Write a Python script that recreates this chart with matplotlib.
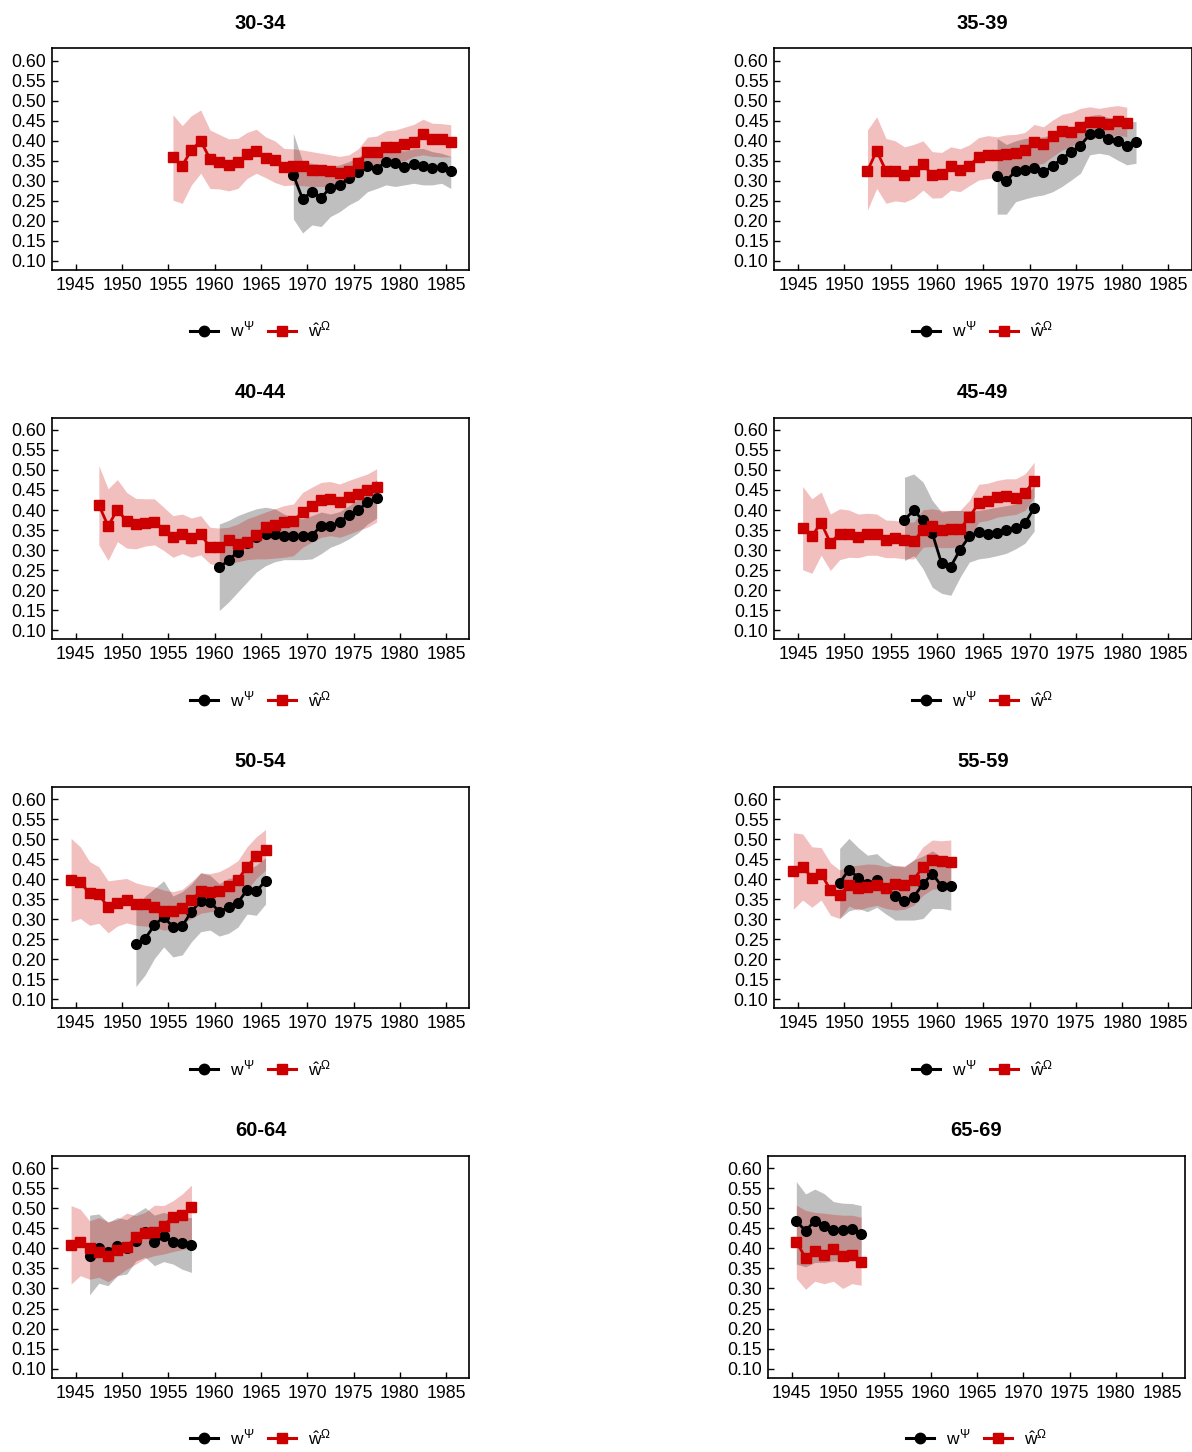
import numpy as np
import matplotlib
matplotlib.use("Agg")
import matplotlib.pyplot as plt
from matplotlib.lines import Line2D

plt.rcParams['font.family'] = ['Liberation Sans', 'DejaVu Sans']
plt.rcParams['mathtext.fontset'] = 'custom'
plt.rcParams['mathtext.rm'] = 'Liberation Sans'
plt.rcParams['mathtext.it'] = 'Liberation Sans'
plt.rcParams['mathtext.bf'] = 'Liberation Sans:bold'

# ---------------------------------------------------------------- data
age_groups = ["30-34", "35-39", "40-44", "45-49", "50-54", "55-59", "60-64", "65-69"]

x_ticks = [1945, 1950, 1955, 1960, 1965, 1970, 1975, 1980, 1985]
y_ticks = [0.10, 0.15, 0.20, 0.25, 0.30, 0.35, 0.40, 0.45, 0.50, 0.55, 0.60]

# first cohort (mid-year) of each series
psi_start = [1968.5, 1966.5, 1960.5, 1956.5, 1951.5, 1949.5, 1946.5, 1945.5]
omega_start = [1955.5, 1952.5, 1947.5, 1945.5, 1944.5, 1944.5, 1944.5, 1945.5]

# 30-34
psi_3034 = [0.315, 0.255, 0.273, 0.258, 0.283, 0.290, 0.306, 0.321, 0.337, 0.330,
            0.348, 0.344, 0.334, 0.341, 0.338, 0.333, 0.335, 0.325]
psi_3034_hi = [0.419, 0.348, 0.344, 0.340, 0.336, 0.340, 0.348, 0.360, 0.373, 0.373,
               0.377, 0.377, 0.375, 0.380, 0.381, 0.373, 0.369, 0.361]
psi_3034_lo = [0.205, 0.170, 0.190, 0.186, 0.211, 0.223, 0.240, 0.252, 0.273, 0.281,
               0.290, 0.286, 0.290, 0.294, 0.290, 0.290, 0.294, 0.281]
omega_3034 = [0.359, 0.338, 0.377, 0.400, 0.355, 0.346, 0.340, 0.346, 0.366, 0.375,
              0.358, 0.351, 0.335, 0.336, 0.336, 0.328, 0.328, 0.325, 0.320, 0.325,
              0.344, 0.371, 0.372, 0.385, 0.385, 0.391, 0.398, 0.417, 0.404, 0.404, 0.398]
omega_3034_hi = [0.465, 0.438, 0.463, 0.477, 0.427, 0.416, 0.405, 0.406, 0.421, 0.429,
                 0.410, 0.400, 0.381, 0.380, 0.377, 0.373, 0.369, 0.365, 0.361, 0.365,
                 0.380, 0.409, 0.412, 0.425, 0.427, 0.434, 0.441, 0.454, 0.444, 0.443, 0.440]
omega_3034_lo = [0.252, 0.244, 0.290, 0.319, 0.281, 0.280, 0.275, 0.281, 0.306, 0.319,
                 0.308, 0.296, 0.288, 0.290, 0.288, 0.286, 0.286, 0.286, 0.286, 0.294,
                 0.315, 0.333, 0.340, 0.350, 0.348, 0.350, 0.361, 0.365, 0.361, 0.360, 0.360]

# 35-39
psi_3539 = [0.313, 0.300, 0.325, 0.327, 0.333, 0.321, 0.338, 0.355, 0.373, 0.388,
            0.416, 0.419, 0.405, 0.400, 0.388, 0.398]
psi_3539_hi = [0.406, 0.391, 0.400, 0.406, 0.408, 0.410, 0.416, 0.423, 0.431, 0.444,
               0.463, 0.466, 0.458, 0.455, 0.448, 0.448]
psi_3539_lo = [0.217, 0.217, 0.248, 0.255, 0.261, 0.265, 0.273, 0.286, 0.302, 0.319,
               0.365, 0.369, 0.365, 0.352, 0.340, 0.344]
omega_3539 = [0.325, 0.375, 0.325, 0.325, 0.315, 0.325, 0.341, 0.315, 0.316, 0.336,
              0.327, 0.338, 0.360, 0.365, 0.365, 0.366, 0.369, 0.377, 0.398, 0.391,
              0.413, 0.425, 0.421, 0.435, 0.446, 0.446, 0.441, 0.450, 0.444]
omega_3539_hi = [0.427, 0.460, 0.406, 0.400, 0.385, 0.391, 0.400, 0.373, 0.371, 0.385,
                 0.380, 0.390, 0.408, 0.413, 0.410, 0.415, 0.416, 0.421, 0.441, 0.435,
                 0.452, 0.466, 0.471, 0.481, 0.485, 0.481, 0.485, 0.488, 0.484]
omega_3539_lo = [0.227, 0.281, 0.244, 0.250, 0.247, 0.257, 0.277, 0.257, 0.258, 0.277,
                 0.273, 0.288, 0.302, 0.306, 0.308, 0.311, 0.315, 0.323, 0.340, 0.344,
                 0.361, 0.377, 0.385, 0.400, 0.406, 0.406, 0.410, 0.415, 0.410]

# 40-44
psi_4044 = [0.257, 0.274, 0.296, 0.318, 0.332, 0.340, 0.340, 0.336, 0.335, 0.335,
            0.336, 0.361, 0.360, 0.370, 0.388, 0.399, 0.420, 0.430]
psi_4044_hi = [0.365, 0.374, 0.386, 0.395, 0.403, 0.407, 0.403, 0.390, 0.382, 0.378,
               0.386, 0.395, 0.390, 0.396, 0.411, 0.428, 0.453, 0.476]
psi_4044_lo = [0.149, 0.170, 0.195, 0.220, 0.245, 0.261, 0.271, 0.276, 0.276, 0.276,
               0.278, 0.291, 0.307, 0.316, 0.328, 0.343, 0.365, 0.380]
omega_4044 = [0.413, 0.360, 0.401, 0.372, 0.365, 0.368, 0.371, 0.351, 0.332, 0.340,
              0.330, 0.340, 0.307, 0.307, 0.324, 0.316, 0.321, 0.338, 0.357, 0.363,
              0.370, 0.372, 0.396, 0.411, 0.424, 0.428, 0.421, 0.432, 0.440, 0.449, 0.457]
omega_4044_hi = [0.511, 0.453, 0.476, 0.444, 0.429, 0.428, 0.428, 0.407, 0.386, 0.390,
                 0.380, 0.386, 0.357, 0.355, 0.357, 0.365, 0.378, 0.386, 0.395, 0.403,
                 0.411, 0.415, 0.444, 0.457, 0.469, 0.471, 0.465, 0.474, 0.482, 0.490, 0.503]
omega_4044_lo = [0.313, 0.274, 0.321, 0.305, 0.303, 0.310, 0.313, 0.299, 0.282, 0.291,
                 0.282, 0.288, 0.266, 0.261, 0.266, 0.271, 0.276, 0.278, 0.278, 0.280,
                 0.282, 0.286, 0.307, 0.320, 0.332, 0.336, 0.332, 0.340, 0.349, 0.357, 0.370]

# 45-49
psi_4549 = [0.376, 0.399, 0.374, 0.342, 0.267, 0.259, 0.301, 0.334, 0.346, 0.341,
            0.342, 0.349, 0.355, 0.367, 0.405]
psi_4549_hi = [0.482, 0.490, 0.470, 0.424, 0.395, 0.399, 0.399, 0.399, 0.399, 0.403,
               0.407, 0.411, 0.415, 0.432, 0.461]
psi_4549_lo = [0.274, 0.286, 0.253, 0.207, 0.192, 0.187, 0.232, 0.270, 0.278, 0.281,
               0.286, 0.292, 0.303, 0.317, 0.347]
omega_4549 = [0.356, 0.335, 0.368, 0.318, 0.341, 0.341, 0.332, 0.341, 0.341, 0.326,
              0.331, 0.326, 0.322, 0.351, 0.359, 0.351, 0.353, 0.353, 0.382, 0.417,
              0.422, 0.432, 0.436, 0.430, 0.443, 0.472]
omega_4549_hi = [0.459, 0.428, 0.445, 0.390, 0.403, 0.400, 0.390, 0.392, 0.390, 0.375,
                 0.374, 0.370, 0.370, 0.401, 0.403, 0.399, 0.399, 0.399, 0.424, 0.464,
                 0.467, 0.474, 0.478, 0.478, 0.490, 0.519]
omega_4549_lo = [0.251, 0.242, 0.287, 0.249, 0.276, 0.282, 0.281, 0.287, 0.287, 0.281,
                 0.281, 0.278, 0.278, 0.307, 0.309, 0.306, 0.306, 0.309, 0.328, 0.370,
                 0.374, 0.382, 0.386, 0.389, 0.399, 0.432]

# 50-54
psi_5054 = [0.238, 0.252, 0.285, 0.306, 0.281, 0.283, 0.319, 0.346, 0.344, 0.319,
            0.330, 0.341, 0.373, 0.370, 0.396]
psi_5054_hi = [0.330, 0.358, 0.377, 0.396, 0.358, 0.369, 0.388, 0.416, 0.410, 0.389,
               0.402, 0.406, 0.423, 0.435, 0.454]
psi_5054_lo = [0.132, 0.161, 0.202, 0.231, 0.206, 0.211, 0.244, 0.269, 0.273, 0.258,
               0.265, 0.280, 0.313, 0.310, 0.338]
omega_5054 = [0.398, 0.392, 0.365, 0.362, 0.330, 0.341, 0.348, 0.337, 0.337, 0.331,
              0.321, 0.320, 0.327, 0.348, 0.370, 0.367, 0.371, 0.383, 0.398, 0.431,
              0.458, 0.473]
omega_5054_hi = [0.502, 0.481, 0.444, 0.431, 0.396, 0.399, 0.402, 0.391, 0.385, 0.381,
                 0.373, 0.369, 0.375, 0.394, 0.416, 0.414, 0.419, 0.431, 0.446, 0.481,
                 0.506, 0.524]
omega_5054_lo = [0.294, 0.302, 0.285, 0.290, 0.266, 0.283, 0.291, 0.285, 0.283, 0.280,
                 0.273, 0.275, 0.290, 0.302, 0.315, 0.319, 0.319, 0.323, 0.344, 0.373,
                 0.402, 0.423]

# 55-59
psi_5559 = [0.391, 0.424, 0.404, 0.389, 0.398, 0.377, 0.358, 0.345, 0.356, 0.388,
            0.414, 0.383, 0.383]
psi_5559_hi = [0.477, 0.502, 0.479, 0.460, 0.464, 0.444, 0.433, 0.431, 0.448, 0.458,
               0.471, 0.456, 0.456]
psi_5559_lo = [0.302, 0.321, 0.327, 0.319, 0.330, 0.313, 0.298, 0.298, 0.298, 0.302,
               0.327, 0.327, 0.323]
omega_5559 = [0.420, 0.431, 0.404, 0.414, 0.373, 0.360, 0.385, 0.379, 0.381, 0.385,
              0.377, 0.388, 0.385, 0.399, 0.431, 0.448, 0.445, 0.442]
omega_5559_hi = [0.516, 0.513, 0.481, 0.479, 0.441, 0.423, 0.433, 0.435, 0.438, 0.437,
                 0.431, 0.435, 0.433, 0.448, 0.481, 0.498, 0.496, 0.498]
omega_5559_lo = [0.325, 0.348, 0.330, 0.348, 0.310, 0.302, 0.333, 0.323, 0.330, 0.335,
                 0.327, 0.323, 0.325, 0.335, 0.360, 0.375, 0.377, 0.377]

# 60-64
psi_6064 = [0.382, 0.400, 0.392, 0.407, 0.400, 0.419, 0.442, 0.415, 0.430, 0.417,
            0.413, 0.408]
psi_6064_hi = [0.483, 0.486, 0.465, 0.477, 0.472, 0.488, 0.502, 0.483, 0.490, 0.482,
               0.477, 0.477]
psi_6064_lo = [0.284, 0.313, 0.307, 0.332, 0.336, 0.369, 0.378, 0.357, 0.367, 0.361,
               0.348, 0.340]
omega_6064 = [0.408, 0.417, 0.400, 0.390, 0.382, 0.397, 0.403, 0.429, 0.438, 0.442,
              0.457, 0.479, 0.483, 0.504]
omega_6064_hi = [0.507, 0.498, 0.469, 0.477, 0.467, 0.472, 0.488, 0.482, 0.490, 0.508,
                 0.507, 0.519, 0.536, 0.558]
omega_6064_lo = [0.311, 0.332, 0.323, 0.328, 0.317, 0.332, 0.348, 0.361, 0.375, 0.382,
                 0.386, 0.392, 0.397, 0.403]

# 65-69
psi_6569 = [0.468, 0.444, 0.469, 0.455, 0.446, 0.446, 0.448, 0.436]
psi_6569_hi = [0.567, 0.536, 0.548, 0.537, 0.517, 0.513, 0.512, 0.507]
psi_6569_lo = [0.361, 0.354, 0.365, 0.365, 0.369, 0.368, 0.371, 0.373]
omega_6569 = [0.417, 0.376, 0.394, 0.383, 0.398, 0.380, 0.384, 0.367]
omega_6569_hi = [0.508, 0.495, 0.490, 0.488, 0.485, 0.483, 0.483, 0.478]
omega_6569_lo = [0.325, 0.298, 0.318, 0.312, 0.318, 0.300, 0.312, 0.308]

psi_series = [
    (psi_3034, psi_3034_lo, psi_3034_hi), (psi_3539, psi_3539_lo, psi_3539_hi),
    (psi_4044, psi_4044_lo, psi_4044_hi), (psi_4549, psi_4549_lo, psi_4549_hi),
    (psi_5054, psi_5054_lo, psi_5054_hi), (psi_5559, psi_5559_lo, psi_5559_hi),
    (psi_6064, psi_6064_lo, psi_6064_hi), (psi_6569, psi_6569_lo, psi_6569_hi),
]
omega_series = [
    (omega_3034, omega_3034_lo, omega_3034_hi), (omega_3539, omega_3539_lo, omega_3539_hi),
    (omega_4044, omega_4044_lo, omega_4044_hi), (omega_4549, omega_4549_lo, omega_4549_hi),
    (omega_5054, omega_5054_lo, omega_5054_hi), (omega_5559, omega_5559_lo, omega_5559_hi),
    (omega_6064, omega_6064_lo, omega_6064_hi), (omega_6569, omega_6569_lo, omega_6569_hi),
]

# ---------------------------------------------------------------- layout
W, H = 1192, 1452
AX_W, AX_H = 417.6, 221.7
ROW_TOP0, ROW_STEP = 48.3, 369.2
COL_LEFT = [51.7, 774.0]
LAST_LEFT = 767.7

BLACK = "#000000"
RED = "#CC0000"

fig = plt.figure(figsize=(W / 100, H / 100), dpi=100)

legend_labels = [r"$w^{\Psi}$", r"$\hat{w}^{\Omega}$"]
legend_handles = [
    Line2D([], [], color=BLACK, lw=2.2, marker="o", ms=7.5),
    Line2D([], [], color=RED, lw=2.2, marker="s", ms=7.5),
]

for i, name in enumerate(age_groups):
    row, col = divmod(i, 2)
    left = COL_LEFT[col] if i < 7 else LAST_LEFT
    top = ROW_TOP0 + row * ROW_STEP
    ax = fig.add_axes([left / W, 1 - (top + AX_H) / H, AX_W / W, AX_H / H])

    p, p_lo, p_hi = psi_series[i]
    o, o_lo, o_hi = omega_series[i]
    xp = psi_start[i] + np.arange(len(p))
    xo = omega_start[i] + np.arange(len(o))

    ax.fill_between(xp, p_lo, p_hi, color=BLACK, alpha=0.25, lw=0, zorder=1)
    ax.fill_between(xo, o_lo, o_hi, color=RED, alpha=0.25, lw=0, zorder=1.5)
    ax.plot(xp, p, color=BLACK, lw=2.0, marker="o", ms=7.0, zorder=3)
    ax.plot(xo, o, color=RED, lw=2.0, marker="s", ms=6.8, zorder=4)

    ax.set_xlim(1942.41, 1987.5)
    ax.set_ylim(0.0775, 0.631)
    ax.set_xticks(x_ticks)
    ax.set_xticklabels([str(t) for t in x_ticks])
    ax.set_yticks(y_ticks)
    ax.set_yticklabels([f"{t:.2f}" for t in y_ticks])
    ax.tick_params(direction="in", length=4, width=1.0, labelsize=12.8,
                   colors="black", top=False, right=False)
    ax.tick_params(axis="y", pad=4)
    ax.tick_params(axis="x", pad=5)
    for s in ax.spines.values():
        s.set_linewidth(1.2)
        s.set_color("black")

    ax.set_title(name, fontsize=14.5, fontweight="bold", pad=14)

    ax.legend(legend_handles, legend_labels, loc="center",
              bbox_to_anchor=(0.5, -0.27), ncol=2, frameon=False,
              fontsize=12.5, handlelength=1.6, handletextpad=0.7,
              columnspacing=0.8)

fig.savefig("out.png", dpi=100, facecolor="white")
